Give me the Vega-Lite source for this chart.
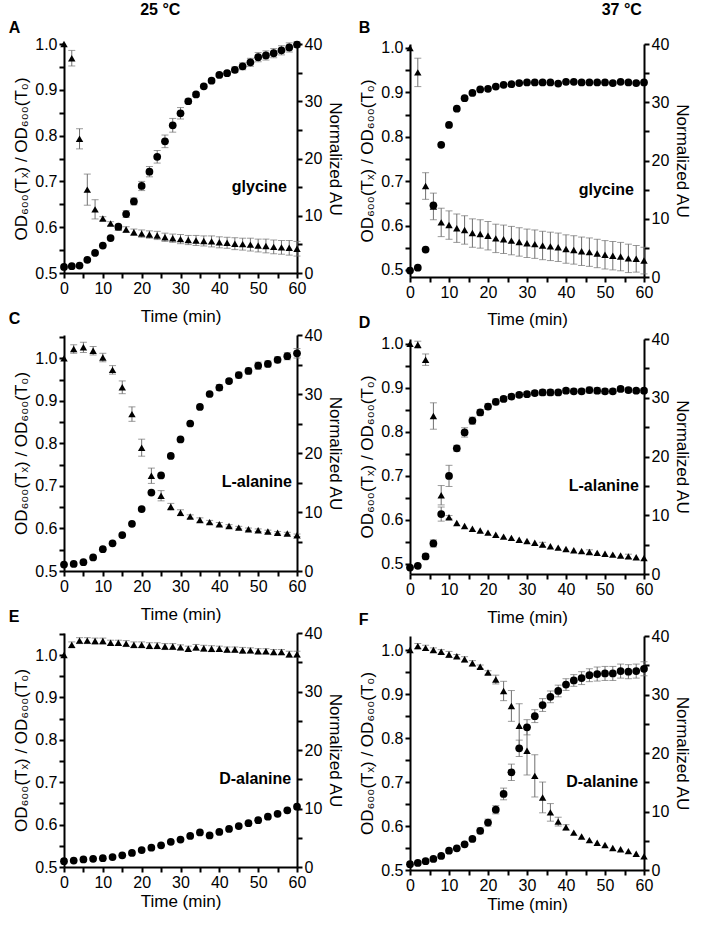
{
  "$schema": "https://vega.github.io/schema/vega-lite/v6.json",
  "background": "white",
  "padding": {"left": 8, "top": 2, "right": 5, "bottom": 5},
  "config": {
    "font": "Liberation Sans",
    "view": {"stroke": null},
    "axis": {"domainColor": "black", "domainWidth": 2, "tickColor": "black", "tickWidth": 2, "tickSize": 5, "labelFontSize": 16, "labelColor": "black", "labelPadding": 2, "labelFlush": false, "labelOverlap": false, "titleFontSize": 17, "titleFontWeight": "normal", "titleColor": "black", "grid": false},
    "title": {"fontSize": 16, "fontWeight": "bold", "color": "black"}
  },
  "datasets": {
    "A": [
      {"t":0,"od":1.0,"ode":0,"au":1.05,"aue":0},{"t":2,"od":0.969,"ode":0.017,"au":1.2,"aue":0},{"t":4,"od":0.793,"ode":0.022,"au":1.3,"aue":0},{"t":6,"od":0.682,"ode":0.034,"au":2.3,"aue":0},{"t":8,"od":0.639,"ode":0.021,"au":3.5,"aue":0},{"t":10,"od":0.619,"ode":0.004,"au":4.8,"aue":0},{"t":12,"od":0.608,"ode":0.004,"au":6.1,"aue":0},{"t":14,"od":0.600,"ode":0.004,"au":8.1,"aue":0},{"t":16,"od":0.595,"ode":0.006,"au":10.3,"aue":0.6},{"t":18,"od":0.589,"ode":0.007,"au":12.5,"aue":0.6},{"t":20,"od":0.586,"ode":0.008,"au":15.2,"aue":0.8},{"t":22,"od":0.584,"ode":0.008,"au":17.7,"aue":0.9},{"t":24,"od":0.582,"ode":0.009,"au":20.3,"aue":1.1},{"t":26,"od":0.578,"ode":0.009,"au":23.0,"aue":1.1},{"t":28,"od":0.576,"ode":0.009,"au":25.8,"aue":1.2},{"t":30,"od":0.574,"ode":0.01,"au":27.9,"aue":1.0},{"t":32,"od":0.572,"ode":0.01,"au":30.0,"aue":0.4},{"t":34,"od":0.571,"ode":0.011,"au":31.2,"aue":0.3},{"t":36,"od":0.570,"ode":0.011,"au":32.6,"aue":0.3},{"t":38,"od":0.569,"ode":0.012,"au":33.6,"aue":0.3},{"t":40,"od":0.567,"ode":0.012,"au":34.6,"aue":0.3},{"t":42,"od":0.566,"ode":0.012,"au":34.9,"aue":0.3},{"t":44,"od":0.564,"ode":0.013,"au":35.5,"aue":0.5},{"t":46,"od":0.563,"ode":0.013,"au":36.1,"aue":0.6},{"t":48,"od":0.562,"ode":0.014,"au":36.8,"aue":0.7},{"t":50,"od":0.560,"ode":0.014,"au":37.7,"aue":0.8},{"t":52,"od":0.559,"ode":0.015,"au":38.0,"aue":0.8},{"t":54,"od":0.557,"ode":0.015,"au":38.4,"aue":0.8},{"t":56,"od":0.556,"ode":0.015,"au":38.9,"aue":0.8},{"t":58,"od":0.555,"ode":0.016,"au":39.4,"aue":0.8},{"t":60,"od":0.553,"ode":0.016,"au":39.9,"aue":0.5}
    ],
    "B": [
      {"t":0,"od":1.0,"ode":0,"au":1.1},{"t":2,"od":0.945,"ode":0.032,"au":1.6},{"t":4,"od":0.689,"ode":0.030,"au":4.7},{"t":6,"od":0.643,"ode":0.030,"au":12.3},{"t":8,"od":0.607,"ode":0.032,"au":22.7},{"t":10,"od":0.601,"ode":0.032,"au":26.1},{"t":12,"od":0.594,"ode":0.032,"au":28.9},{"t":14,"od":0.590,"ode":0.032,"au":30.7},{"t":16,"od":0.583,"ode":0.032,"au":31.6},{"t":18,"od":0.581,"ode":0.032,"au":32.2},{"t":20,"od":0.577,"ode":0.032,"au":32.3},{"t":22,"od":0.571,"ode":0.032,"au":32.7},{"t":24,"od":0.569,"ode":0.032,"au":33.0},{"t":26,"od":0.566,"ode":0.032,"au":33.1},{"t":28,"od":0.563,"ode":0.032,"au":33.3},{"t":30,"od":0.560,"ode":0.032,"au":33.4},{"t":32,"od":0.558,"ode":0.032,"au":33.4},{"t":34,"od":0.555,"ode":0.032,"au":33.4},{"t":36,"od":0.553,"ode":0.032,"au":33.4},{"t":38,"od":0.551,"ode":0.032,"au":33.2},{"t":40,"od":0.547,"ode":0.032,"au":33.5},{"t":42,"od":0.545,"ode":0.032,"au":33.5},{"t":44,"od":0.542,"ode":0.032,"au":33.4},{"t":46,"od":0.540,"ode":0.032,"au":33.4},{"t":48,"od":0.537,"ode":0.032,"au":33.4},{"t":50,"od":0.534,"ode":0.032,"au":33.4},{"t":52,"od":0.532,"ode":0.032,"au":33.3},{"t":54,"od":0.530,"ode":0.032,"au":33.5},{"t":56,"od":0.526,"ode":0.032,"au":33.4},{"t":58,"od":0.525,"ode":0.030,"au":33.3},{"t":60,"od":0.521,"ode":0.030,"au":33.4}
    ],
    "C": [
      {"t":0,"od":1.0,"ode":0,"au":1.1,"aue":0},{"t":2.5,"od":1.022,"ode":0.010,"au":1.2,"aue":0},{"t":5,"od":1.026,"ode":0.012,"au":1.5,"aue":0},{"t":7.5,"od":1.018,"ode":0.010,"au":2.3,"aue":0},{"t":10,"od":1.002,"ode":0.010,"au":3.7,"aue":0},{"t":12.5,"od":0.973,"ode":0.010,"au":4.7,"aue":0},{"t":15,"od":0.932,"ode":0.015,"au":6.1,"aue":0},{"t":17.5,"od":0.869,"ode":0.017,"au":8.0,"aue":0},{"t":20,"od":0.790,"ode":0.020,"au":10.5,"aue":0},{"t":22.5,"od":0.724,"ode":0.018,"au":13.3,"aue":0},{"t":25,"od":0.677,"ode":0.012,"au":16.2,"aue":0},{"t":27.5,"od":0.651,"ode":0.008,"au":19.5,"aue":0},{"t":30,"od":0.637,"ode":0.007,"au":22.3,"aue":0},{"t":32.5,"od":0.628,"ode":0.004,"au":25.0,"aue":0},{"t":35,"od":0.620,"ode":0.005,"au":27.8,"aue":0},{"t":37.5,"od":0.615,"ode":0.004,"au":30.0,"aue":0},{"t":40,"od":0.610,"ode":0.004,"au":31.1,"aue":0.5},{"t":42.5,"od":0.606,"ode":0.003,"au":32.2,"aue":0.3},{"t":45,"od":0.602,"ode":0.003,"au":33.2,"aue":0.5},{"t":47.5,"od":0.598,"ode":0.003,"au":33.9,"aue":0.5},{"t":50,"od":0.596,"ode":0.003,"au":34.8,"aue":0.6},{"t":52.5,"od":0.593,"ode":0.003,"au":35.1,"aue":0.5},{"t":55,"od":0.590,"ode":0.003,"au":35.8,"aue":0.5},{"t":57.5,"od":0.588,"ode":0.003,"au":36.4,"aue":0.6},{"t":60,"od":0.584,"ode":0.003,"au":36.9,"aue":0.8}
    ],
    "D": [
      {"t":0,"od":1.0,"ode":0,"au":1.1,"aue":0},{"t":2,"od":0.998,"ode":0.008,"au":1.4,"aue":0},{"t":4,"od":0.964,"ode":0.013,"au":3.0,"aue":0.4},{"t":6,"od":0.836,"ode":0.030,"au":5.2,"aue":0.6},{"t":8,"od":0.656,"ode":0.022,"au":10.2,"aue":1.2},{"t":10,"od":0.606,"ode":0.004,"au":16.7,"aue":1.8},{"t":12,"od":0.593,"ode":0,"au":21.4,"aue":0.5},{"t":14,"od":0.586,"ode":0,"au":24.1,"aue":0.8},{"t":16,"od":0.580,"ode":0,"au":26.1,"aue":0.6},{"t":18,"od":0.576,"ode":0,"au":27.5,"aue":0.5},{"t":20,"od":0.571,"ode":0,"au":28.5,"aue":0.5},{"t":22,"od":0.566,"ode":0,"au":29.3,"aue":0.5},{"t":24,"od":0.562,"ode":0,"au":29.8,"aue":0.4},{"t":26,"od":0.559,"ode":0,"au":30.2,"aue":0.4},{"t":28,"od":0.555,"ode":0,"au":30.5,"aue":0.4},{"t":30,"od":0.552,"ode":0,"au":30.6,"aue":0.4},{"t":32,"od":0.548,"ode":0,"au":30.8,"aue":0.4},{"t":34,"od":0.544,"ode":0.005,"au":30.9,"aue":0.5},{"t":36,"od":0.540,"ode":0,"au":30.9,"aue":0.5},{"t":38,"od":0.537,"ode":0,"au":30.9,"aue":0.4},{"t":40,"od":0.534,"ode":0,"au":31.2,"aue":0.4},{"t":42,"od":0.531,"ode":0,"au":31.1,"aue":0.4},{"t":44,"od":0.529,"ode":0,"au":31.1,"aue":0.4},{"t":46,"od":0.527,"ode":0.005,"au":31.3,"aue":0.5},{"t":48,"od":0.525,"ode":0,"au":31.2,"aue":0.5},{"t":50,"od":0.523,"ode":0,"au":31.1,"aue":0.4},{"t":52,"od":0.521,"ode":0,"au":31.1,"aue":0.4},{"t":54,"od":0.519,"ode":0,"au":31.5,"aue":0.4},{"t":56,"od":0.517,"ode":0.005,"au":31.3,"aue":0.4},{"t":58,"od":0.515,"ode":0,"au":31.2,"aue":0.3},{"t":60,"od":0.513,"ode":0,"au":31.2,"aue":0.3}
    ],
    "E": [
      {"t":0,"od":1.0,"au":1.0},{"t":2,"od":1.024,"ode":0.007},{"t":2.5,"au":1.1},{"t":4,"od":1.034,"ode":0.007},{"t":5,"au":1.3},{"t":6,"od":1.034,"ode":0.007},{"t":7.5,"au":1.4},{"t":8,"od":1.033,"ode":0.007},{"t":10,"od":1.033,"ode":0.007,"au":1.5},{"t":12,"od":1.029,"ode":0.006},{"t":12.5,"au":1.7},{"t":14,"od":1.029,"ode":0.006},{"t":15,"au":2.0},{"t":16,"od":1.027,"ode":0.007},{"t":17.5,"au":2.4},{"t":18,"od":1.024,"ode":0.007},{"t":20,"od":1.024,"ode":0.007,"au":2.9},{"t":22,"od":1.022,"ode":0.007},{"t":22.5,"au":3.3},{"t":24,"od":1.022,"ode":0.007},{"t":25,"au":3.7},{"t":26,"od":1.020,"ode":0.007},{"t":27.5,"au":4.3},{"t":28,"od":1.020,"ode":0.007},{"t":30,"od":1.018,"ode":0.006,"au":4.7},{"t":32,"od":1.015,"ode":0.006},{"t":32.5,"au":5.3},{"t":34,"od":1.018,"ode":0.007},{"t":35,"au":5.9},{"t":36,"od":1.016,"ode":0.007},{"t":37.5,"au":5.4},{"t":38,"od":1.015,"ode":0.007},{"t":40,"od":1.015,"ode":0.006,"au":6.0},{"t":42,"od":1.013,"ode":0.006},{"t":42.5,"au":6.5},{"t":44,"od":1.013,"ode":0.006},{"t":45,"au":7.0},{"t":46,"od":1.011,"ode":0.007},{"t":47.5,"au":7.5},{"t":48,"od":1.011,"ode":0.006},{"t":50,"od":1.009,"ode":0.006,"au":8.0},{"t":52,"od":1.009,"ode":0.006},{"t":52.5,"au":8.6},{"t":54,"od":1.007,"ode":0.006},{"t":55,"au":9.1},{"t":56,"od":1.007,"ode":0.006},{"t":57.5,"au":9.7},{"t":58,"od":1.002,"ode":0.007},{"t":60,"od":1.002,"ode":0.007,"au":10.3}
    ],
    "F": [
      {"t":0,"od":1.0,"ode":0,"au":1.0,"aue":0},{"t":2,"od":1.009,"ode":0.006,"au":1.2,"aue":0},{"t":4,"od":1.005,"ode":0.006,"au":1.5,"aue":0},{"t":6,"od":1.0,"ode":0.005,"au":1.9,"aue":0},{"t":8,"od":0.996,"ode":0.005,"au":2.4,"aue":0},{"t":10,"od":0.990,"ode":0.007,"au":3.3,"aue":0},{"t":12,"od":0.986,"ode":0.004,"au":3.7,"aue":0},{"t":14,"od":0.979,"ode":0.006,"au":4.4,"aue":0},{"t":16,"od":0.970,"ode":0.006,"au":5.3,"aue":0},{"t":18,"od":0.962,"ode":0.004,"au":6.7,"aue":0.5},{"t":20,"od":0.949,"ode":0.004,"au":8.1,"aue":0.6},{"t":22,"od":0.933,"ode":0.010,"au":10.3,"aue":0.7},{"t":24,"od":0.907,"ode":0.022,"au":13.0,"aue":1.0},{"t":26,"od":0.873,"ode":0.035,"au":16.7,"aue":1.4},{"t":28,"od":0.828,"ode":0.05,"au":20.8,"aue":1.4},{"t":30,"od":0.771,"ode":0.055,"au":24.4,"aue":1.3},{"t":32,"od":0.714,"ode":0.048,"au":26.3,"aue":1.1},{"t":34,"od":0.665,"ode":0.035,"au":28.2,"aue":1.1},{"t":36,"od":0.631,"ode":0.02,"au":29.6,"aue":1.0},{"t":38,"od":0.610,"ode":0.01,"au":30.6,"aue":1.0},{"t":40,"od":0.597,"ode":0.006,"au":31.7,"aue":1.0},{"t":42,"od":0.585,"ode":0,"au":32.4,"aue":1.0},{"t":44,"od":0.576,"ode":0,"au":32.8,"aue":1.1},{"t":46,"od":0.568,"ode":0,"au":33.3,"aue":1.1},{"t":48,"od":0.562,"ode":0,"au":33.5,"aue":1.2},{"t":50,"od":0.557,"ode":0,"au":33.6,"aue":1.2},{"t":52,"od":0.550,"ode":0,"au":33.6,"aue":1.2},{"t":54,"od":0.547,"ode":0,"au":34.0,"aue":1.2},{"t":56,"od":0.543,"ode":0,"au":33.9,"aue":1.2},{"t":58,"od":0.537,"ode":0,"au":34.0,"aue":1.2},{"t":60,"od":0.531,"ode":0,"au":34.4,"aue":1.2}
    ]
  },
  "spacing": 14,
  "hconcat": [
    {
      "title": {"text": "25 °C", "anchor": "middle", "offset": 2, "dx": -16},
      "bounds": "flush",
      "spacing": 62,
      "vconcat": [
        {
          "title": {"text": "A", "anchor": "start", "frame": "bounds", "dx": -4, "offset": 0},
          "width": 233, "height": 229,
          "data": {"name": "A"},
          "layer": [
            {"layer": [
              {"transform": [{"filter": "datum.ode > 0"}], "mark": {"type": "errorbar", "ticks": true, "color": "#707070", "size": 7, "thickness": 1}, "encoding": {"x": {"field": "t", "type": "quantitative", "title": "Time (min)", "scale": {"domain": [0, 60], "nice": false}, "axis": {"values": [0,5,10,15,20,25,30,35,40,45,50,55,60], "labelExpr": "datum.value % 10 === 0 ? datum.label : ''", "labelOverlap": false, "titlePadding": 12}}, "y": {"field": "od", "type": "quantitative", "title": "OD₆₀₀(Tₓ) / OD₆₀₀(T₀)", "scale": {"domain": [0.5, 1.0], "nice": false, "zero": false}, "axis": {"values": [0.5,0.55,0.6,0.65,0.7,0.75,0.8,0.85,0.9,0.95,1.0], "labelExpr": "round(datum.value*100) % 10 === 0 ? format(datum.value, '.1f') : ''", "labelOverlap": false}}, "yError": {"field": "ode"}}},
              {"mark": {"type": "point", "shape": "triangle-up", "filled": true, "color": "black", "size": 55, "opacity": 1}, "encoding": {"x": {"field": "t", "type": "quantitative", "title": "Time (min)", "scale": {"domain": [0, 60], "nice": false}, "axis": {"values": [0,5,10,15,20,25,30,35,40,45,50,55,60], "labelExpr": "datum.value % 10 === 0 ? datum.label : ''", "labelOverlap": false, "titlePadding": 12}}, "y": {"field": "od", "type": "quantitative", "title": "OD₆₀₀(Tₓ) / OD₆₀₀(T₀)", "scale": {"domain": [0.5, 1.0], "nice": false, "zero": false}, "axis": {"values": [0.5,0.55,0.6,0.65,0.7,0.75,0.8,0.85,0.9,0.95,1.0], "labelExpr": "round(datum.value*100) % 10 === 0 ? format(datum.value, '.1f') : ''", "labelOverlap": false}}}},
              {"data": {"values": [{"lab": "glycine"}]}, "mark": {"type": "text", "fontSize": 16, "fontWeight": "bold", "align": "right", "baseline": "middle", "color": "black"}, "encoding": {"x": {"datum": 57.4, "type": "quantitative", "title": "Time (min)", "axis": {"values": [0,5,10,15,20,25,30,35,40,45,50,55,60], "labelExpr": "datum.value % 10 === 0 ? datum.label : ''", "labelOverlap": false, "titlePadding": 12}}, "y": {"datum": 0.688, "type": "quantitative", "title": "OD₆₀₀(Tₓ) / OD₆₀₀(T₀)", "axis": {"values": [0.5,0.55,0.6,0.65,0.7,0.75,0.8,0.85,0.9,0.95,1.0], "labelExpr": "round(datum.value*100) % 10 === 0 ? format(datum.value, '.1f') : ''", "labelOverlap": false}}, "text": {"field": "lab"}}}
            ]},
            {"layer": [
              {"transform": [{"filter": "datum.aue > 0"}], "mark": {"type": "errorbar", "ticks": true, "color": "#707070", "size": 7, "thickness": 1}, "encoding": {"x": {"field": "t", "type": "quantitative", "title": "Time (min)", "scale": {"domain": [0, 60], "nice": false}, "axis": {"values": [0,5,10,15,20,25,30,35,40,45,50,55,60], "labelExpr": "datum.value % 10 === 0 ? datum.label : ''", "labelOverlap": false, "titlePadding": 12}}, "y": {"field": "au", "type": "quantitative", "title": "Normalized AU", "scale": {"domain": [0, 40], "nice": false}, "axis": {"orient": "right", "values": [0,5,10,15,20,25,30,35,40], "labelExpr": "datum.value % 10 === 0 ? datum.label : ''", "labelOverlap": false}}, "yError": {"field": "aue"}}},
              {"mark": {"type": "point", "shape": "circle", "filled": true, "color": "black", "size": 60, "opacity": 1}, "encoding": {"x": {"field": "t", "type": "quantitative", "title": "Time (min)", "scale": {"domain": [0, 60], "nice": false}, "axis": {"values": [0,5,10,15,20,25,30,35,40,45,50,55,60], "labelExpr": "datum.value % 10 === 0 ? datum.label : ''", "labelOverlap": false, "titlePadding": 12}}, "y": {"field": "au", "type": "quantitative", "title": "Normalized AU", "scale": {"domain": [0, 40], "nice": false}, "axis": {"orient": "right", "values": [0,5,10,15,20,25,30,35,40], "labelExpr": "datum.value % 10 === 0 ? datum.label : ''", "labelOverlap": false}}}}
            ]}
          ],
          "resolve": {"scale": {"y": "independent"}}
        },
        {
          "title": {"text": "C", "anchor": "start", "frame": "bounds", "dx": -4, "offset": 0},
          "width": 233, "height": 236,
          "data": {"name": "C"},
          "layer": [
            {"layer": [
              {"transform": [{"filter": "datum.ode > 0"}], "mark": {"type": "errorbar", "ticks": true, "color": "#707070", "size": 7, "thickness": 1}, "encoding": {"x": {"field": "t", "type": "quantitative", "title": "Time (min)", "scale": {"domain": [0, 60], "nice": false}, "axis": {"values": [0,5,10,15,20,25,30,35,40,45,50,55,60], "labelExpr": "datum.value % 10 === 0 ? datum.label : ''", "labelOverlap": false, "titlePadding": 12}}, "y": {"field": "od", "type": "quantitative", "title": "OD₆₀₀(Tₓ) / OD₆₀₀(T₀)", "scale": {"domain": [0.5, 1.055], "nice": false, "zero": false}, "axis": {"values": [0.5,0.55,0.6,0.65,0.7,0.75,0.8,0.85,0.9,0.95,1.0,1.05], "labelExpr": "round(datum.value*100) % 10 === 0 ? format(datum.value, '.1f') : ''", "labelOverlap": false}}, "yError": {"field": "ode"}}},
              {"mark": {"type": "point", "shape": "triangle-up", "filled": true, "color": "black", "size": 55, "opacity": 1}, "encoding": {"x": {"field": "t", "type": "quantitative", "title": "Time (min)", "scale": {"domain": [0, 60], "nice": false}, "axis": {"values": [0,5,10,15,20,25,30,35,40,45,50,55,60], "labelExpr": "datum.value % 10 === 0 ? datum.label : ''", "labelOverlap": false, "titlePadding": 12}}, "y": {"field": "od", "type": "quantitative", "title": "OD₆₀₀(Tₓ) / OD₆₀₀(T₀)", "scale": {"domain": [0.5, 1.055], "nice": false, "zero": false}, "axis": {"values": [0.5,0.55,0.6,0.65,0.7,0.75,0.8,0.85,0.9,0.95,1.0,1.05], "labelExpr": "round(datum.value*100) % 10 === 0 ? format(datum.value, '.1f') : ''", "labelOverlap": false}}}},
              {"data": {"values": [{"lab": "L-alanine"}]}, "mark": {"type": "text", "fontSize": 16, "fontWeight": "bold", "align": "right", "baseline": "middle", "color": "black"}, "encoding": {"x": {"datum": 58.7, "type": "quantitative", "title": "Time (min)", "axis": {"values": [0,5,10,15,20,25,30,35,40,45,50,55,60], "labelExpr": "datum.value % 10 === 0 ? datum.label : ''", "labelOverlap": false, "titlePadding": 12}}, "y": {"datum": 0.709, "type": "quantitative", "title": "OD₆₀₀(Tₓ) / OD₆₀₀(T₀)", "axis": {"values": [0.5,0.55,0.6,0.65,0.7,0.75,0.8,0.85,0.9,0.95,1.0,1.05], "labelExpr": "round(datum.value*100) % 10 === 0 ? format(datum.value, '.1f') : ''", "labelOverlap": false}}, "text": {"field": "lab"}}}
            ]},
            {"layer": [
              {"transform": [{"filter": "datum.aue > 0"}], "mark": {"type": "errorbar", "ticks": true, "color": "#707070", "size": 7, "thickness": 1}, "encoding": {"x": {"field": "t", "type": "quantitative", "title": "Time (min)", "scale": {"domain": [0, 60], "nice": false}, "axis": {"values": [0,5,10,15,20,25,30,35,40,45,50,55,60], "labelExpr": "datum.value % 10 === 0 ? datum.label : ''", "labelOverlap": false, "titlePadding": 12}}, "y": {"field": "au", "type": "quantitative", "title": "Normalized AU", "scale": {"domain": [0, 40], "nice": false}, "axis": {"orient": "right", "values": [0,5,10,15,20,25,30,35,40], "labelExpr": "datum.value % 10 === 0 ? datum.label : ''", "labelOverlap": false}}, "yError": {"field": "aue"}}},
              {"mark": {"type": "point", "shape": "circle", "filled": true, "color": "black", "size": 60, "opacity": 1}, "encoding": {"x": {"field": "t", "type": "quantitative", "title": "Time (min)", "scale": {"domain": [0, 60], "nice": false}, "axis": {"values": [0,5,10,15,20,25,30,35,40,45,50,55,60], "labelExpr": "datum.value % 10 === 0 ? datum.label : ''", "labelOverlap": false, "titlePadding": 12}}, "y": {"field": "au", "type": "quantitative", "title": "Normalized AU", "scale": {"domain": [0, 40], "nice": false}, "axis": {"orient": "right", "values": [0,5,10,15,20,25,30,35,40], "labelExpr": "datum.value % 10 === 0 ? datum.label : ''", "labelOverlap": false}}}}
            ]}
          ],
          "resolve": {"scale": {"y": "independent"}}
        },
        {
          "title": {"text": "E", "anchor": "start", "frame": "bounds", "dx": -4, "offset": 0},
          "width": 233, "height": 234,
          "data": {"name": "E"},
          "layer": [
            {"layer": [
              {"transform": [{"filter": "datum.ode > 0"}], "mark": {"type": "errorbar", "ticks": true, "color": "#707070", "size": 7, "thickness": 1}, "encoding": {"x": {"field": "t", "type": "quantitative", "title": "Time (min)", "scale": {"domain": [0, 60], "nice": false}, "axis": {"values": [0,5,10,15,20,25,30,35,40,45,50,55,60], "labelExpr": "datum.value % 10 === 0 ? datum.label : ''", "labelOverlap": false, "titlePadding": 3}}, "y": {"field": "od", "type": "quantitative", "title": "OD₆₀₀(Tₓ) / OD₆₀₀(T₀)", "scale": {"domain": [0.5, 1.052], "nice": false, "zero": false}, "axis": {"values": [0.5,0.55,0.6,0.65,0.7,0.75,0.8,0.85,0.9,0.95,1.0,1.05], "labelExpr": "round(datum.value*100) % 10 === 0 ? format(datum.value, '.1f') : ''", "labelOverlap": false}}, "yError": {"field": "ode"}}},
              {"mark": {"type": "point", "shape": "triangle-up", "filled": true, "color": "black", "size": 55, "opacity": 1}, "encoding": {"x": {"field": "t", "type": "quantitative", "title": "Time (min)", "scale": {"domain": [0, 60], "nice": false}, "axis": {"values": [0,5,10,15,20,25,30,35,40,45,50,55,60], "labelExpr": "datum.value % 10 === 0 ? datum.label : ''", "labelOverlap": false, "titlePadding": 3}}, "y": {"field": "od", "type": "quantitative", "title": "OD₆₀₀(Tₓ) / OD₆₀₀(T₀)", "scale": {"domain": [0.5, 1.052], "nice": false, "zero": false}, "axis": {"values": [0.5,0.55,0.6,0.65,0.7,0.75,0.8,0.85,0.9,0.95,1.0,1.05], "labelExpr": "round(datum.value*100) % 10 === 0 ? format(datum.value, '.1f') : ''", "labelOverlap": false}}}},
              {"data": {"values": [{"lab": "D-alanine"}]}, "mark": {"type": "text", "fontSize": 16, "fontWeight": "bold", "align": "right", "baseline": "middle", "color": "black"}, "encoding": {"x": {"datum": 58.5, "type": "quantitative", "title": "Time (min)", "axis": {"values": [0,5,10,15,20,25,30,35,40,45,50,55,60], "labelExpr": "datum.value % 10 === 0 ? datum.label : ''", "labelOverlap": false, "titlePadding": 3}}, "y": {"datum": 0.707, "type": "quantitative", "title": "OD₆₀₀(Tₓ) / OD₆₀₀(T₀)", "axis": {"values": [0.5,0.55,0.6,0.65,0.7,0.75,0.8,0.85,0.9,0.95,1.0,1.05], "labelExpr": "round(datum.value*100) % 10 === 0 ? format(datum.value, '.1f') : ''", "labelOverlap": false}}, "text": {"field": "lab"}}}
            ]},
            {"layer": [
              {"mark": {"type": "point", "shape": "circle", "filled": true, "color": "black", "size": 60, "opacity": 1}, "encoding": {"x": {"field": "t", "type": "quantitative", "title": "Time (min)", "scale": {"domain": [0, 60], "nice": false}, "axis": {"values": [0,5,10,15,20,25,30,35,40,45,50,55,60], "labelExpr": "datum.value % 10 === 0 ? datum.label : ''", "labelOverlap": false, "titlePadding": 3}}, "y": {"field": "au", "type": "quantitative", "title": "Normalized AU", "scale": {"domain": [0, 40], "nice": false}, "axis": {"orient": "right", "values": [0,5,10,15,20,25,30,35,40], "labelExpr": "datum.value % 10 === 0 ? datum.label : ''", "labelOverlap": false}}}}
            ]}
          ],
          "resolve": {"scale": {"y": "independent"}}
        }
      ]
    },
    {
      "title": {"text": "37 °C", "anchor": "middle", "offset": 2, "dx": 97},
      "bounds": "flush",
      "spacing": 62,
      "vconcat": [
        {
          "title": {"text": "B", "anchor": "start", "frame": "bounds", "offset": 0},
          "width": 234, "height": 233,
          "data": {"name": "B"},
          "layer": [
            {"layer": [
              {"transform": [{"filter": "datum.ode > 0"}], "mark": {"type": "errorbar", "ticks": true, "color": "#707070", "size": 7, "thickness": 1}, "encoding": {"x": {"field": "t", "type": "quantitative", "title": "Time (min)", "scale": {"domain": [0, 60], "nice": false}, "axis": {"values": [0,5,10,15,20,25,30,35,40,45,50,55,60], "labelExpr": "datum.value % 10 === 0 ? datum.label : ''", "labelOverlap": false, "titlePadding": 11}}, "y": {"field": "od", "type": "quantitative", "title": "OD₆₀₀(Tₓ) / OD₆₀₀(T₀)", "scale": {"domain": [0.484, 1.009], "nice": false, "zero": false}, "axis": {"values": [0.5,0.55,0.6,0.65,0.7,0.75,0.8,0.85,0.9,0.95,1.0], "labelExpr": "round(datum.value*100) % 10 === 0 ? format(datum.value, '.1f') : ''", "labelOverlap": false}}, "yError": {"field": "ode"}}},
              {"mark": {"type": "point", "shape": "triangle-up", "filled": true, "color": "black", "size": 55, "opacity": 1}, "encoding": {"x": {"field": "t", "type": "quantitative", "title": "Time (min)", "scale": {"domain": [0, 60], "nice": false}, "axis": {"values": [0,5,10,15,20,25,30,35,40,45,50,55,60], "labelExpr": "datum.value % 10 === 0 ? datum.label : ''", "labelOverlap": false, "titlePadding": 11}}, "y": {"field": "od", "type": "quantitative", "title": "OD₆₀₀(Tₓ) / OD₆₀₀(T₀)", "scale": {"domain": [0.484, 1.009], "nice": false, "zero": false}, "axis": {"values": [0.5,0.55,0.6,0.65,0.7,0.75,0.8,0.85,0.9,0.95,1.0], "labelExpr": "round(datum.value*100) % 10 === 0 ? format(datum.value, '.1f') : ''", "labelOverlap": false}}}},
              {"data": {"values": [{"lab": "glycine"}]}, "mark": {"type": "text", "fontSize": 16, "fontWeight": "bold", "align": "right", "baseline": "middle", "color": "black"}, "encoding": {"x": {"datum": 57.4, "type": "quantitative", "title": "Time (min)", "axis": {"values": [0,5,10,15,20,25,30,35,40,45,50,55,60], "labelExpr": "datum.value % 10 === 0 ? datum.label : ''", "labelOverlap": false, "titlePadding": 11}}, "y": {"datum": 0.68, "type": "quantitative", "title": "OD₆₀₀(Tₓ) / OD₆₀₀(T₀)", "axis": {"values": [0.5,0.55,0.6,0.65,0.7,0.75,0.8,0.85,0.9,0.95,1.0], "labelExpr": "round(datum.value*100) % 10 === 0 ? format(datum.value, '.1f') : ''", "labelOverlap": false}}, "text": {"field": "lab"}}}
            ]},
            {"layer": [
              {"mark": {"type": "point", "shape": "circle", "filled": true, "color": "black", "size": 60, "opacity": 1}, "encoding": {"x": {"field": "t", "type": "quantitative", "title": "Time (min)", "scale": {"domain": [0, 60], "nice": false}, "axis": {"values": [0,5,10,15,20,25,30,35,40,45,50,55,60], "labelExpr": "datum.value % 10 === 0 ? datum.label : ''", "labelOverlap": false, "titlePadding": 11}}, "y": {"field": "au", "type": "quantitative", "title": "Normalized AU", "scale": {"domain": [0, 40], "nice": false}, "axis": {"orient": "right", "values": [0,5,10,15,20,25,30,35,40], "labelExpr": "datum.value % 10 === 0 ? datum.label : ''", "labelOverlap": false}}}}
            ]}
          ],
          "resolve": {"scale": {"y": "independent"}}
        },
        {
          "title": {"text": "D", "anchor": "start", "frame": "bounds", "offset": 0},
          "width": 234, "height": 235,
          "data": {"name": "D"},
          "layer": [
            {"layer": [
              {"transform": [{"filter": "datum.ode > 0"}], "mark": {"type": "errorbar", "ticks": true, "color": "#707070", "size": 7, "thickness": 1}, "encoding": {"x": {"field": "t", "type": "quantitative", "title": "Time (min)", "scale": {"domain": [0, 60], "nice": false}, "axis": {"values": [0,5,10,15,20,25,30,35,40,45,50,55,60], "labelExpr": "datum.value % 10 === 0 ? datum.label : ''", "labelOverlap": false, "titlePadding": 12}}, "y": {"field": "od", "type": "quantitative", "title": "OD₆₀₀(Tₓ) / OD₆₀₀(T₀)", "scale": {"domain": [0.477, 1.011], "nice": false, "zero": false}, "axis": {"values": [0.5,0.55,0.6,0.65,0.7,0.75,0.8,0.85,0.9,0.95,1.0], "labelExpr": "round(datum.value*100) % 10 === 0 ? format(datum.value, '.1f') : ''", "labelOverlap": false}}, "yError": {"field": "ode"}}},
              {"mark": {"type": "point", "shape": "triangle-up", "filled": true, "color": "black", "size": 55, "opacity": 1}, "encoding": {"x": {"field": "t", "type": "quantitative", "title": "Time (min)", "scale": {"domain": [0, 60], "nice": false}, "axis": {"values": [0,5,10,15,20,25,30,35,40,45,50,55,60], "labelExpr": "datum.value % 10 === 0 ? datum.label : ''", "labelOverlap": false, "titlePadding": 12}}, "y": {"field": "od", "type": "quantitative", "title": "OD₆₀₀(Tₓ) / OD₆₀₀(T₀)", "scale": {"domain": [0.477, 1.011], "nice": false, "zero": false}, "axis": {"values": [0.5,0.55,0.6,0.65,0.7,0.75,0.8,0.85,0.9,0.95,1.0], "labelExpr": "round(datum.value*100) % 10 === 0 ? format(datum.value, '.1f') : ''", "labelOverlap": false}}}},
              {"data": {"values": [{"lab": "L-alanine"}]}, "mark": {"type": "text", "fontSize": 16, "fontWeight": "bold", "align": "right", "baseline": "middle", "color": "black"}, "encoding": {"x": {"datum": 58.7, "type": "quantitative", "title": "Time (min)", "axis": {"values": [0,5,10,15,20,25,30,35,40,45,50,55,60], "labelExpr": "datum.value % 10 === 0 ? datum.label : ''", "labelOverlap": false, "titlePadding": 12}}, "y": {"datum": 0.676, "type": "quantitative", "title": "OD₆₀₀(Tₓ) / OD₆₀₀(T₀)", "axis": {"values": [0.5,0.55,0.6,0.65,0.7,0.75,0.8,0.85,0.9,0.95,1.0], "labelExpr": "round(datum.value*100) % 10 === 0 ? format(datum.value, '.1f') : ''", "labelOverlap": false}}, "text": {"field": "lab"}}}
            ]},
            {"layer": [
              {"transform": [{"filter": "datum.aue > 0"}], "mark": {"type": "errorbar", "ticks": true, "color": "#707070", "size": 7, "thickness": 1}, "encoding": {"x": {"field": "t", "type": "quantitative", "title": "Time (min)", "scale": {"domain": [0, 60], "nice": false}, "axis": {"values": [0,5,10,15,20,25,30,35,40,45,50,55,60], "labelExpr": "datum.value % 10 === 0 ? datum.label : ''", "labelOverlap": false, "titlePadding": 12}}, "y": {"field": "au", "type": "quantitative", "title": "Normalized AU", "scale": {"domain": [0, 40], "nice": false}, "axis": {"orient": "right", "values": [0,5,10,15,20,25,30,35,40], "labelExpr": "datum.value % 10 === 0 ? datum.label : ''", "labelOverlap": false}}, "yError": {"field": "aue"}}},
              {"mark": {"type": "point", "shape": "circle", "filled": true, "color": "black", "size": 60, "opacity": 1}, "encoding": {"x": {"field": "t", "type": "quantitative", "title": "Time (min)", "scale": {"domain": [0, 60], "nice": false}, "axis": {"values": [0,5,10,15,20,25,30,35,40,45,50,55,60], "labelExpr": "datum.value % 10 === 0 ? datum.label : ''", "labelOverlap": false, "titlePadding": 12}}, "y": {"field": "au", "type": "quantitative", "title": "Normalized AU", "scale": {"domain": [0, 40], "nice": false}, "axis": {"orient": "right", "values": [0,5,10,15,20,25,30,35,40], "labelExpr": "datum.value % 10 === 0 ? datum.label : ''", "labelOverlap": false}}}}
            ]}
          ],
          "resolve": {"scale": {"y": "independent"}}
        },
        {
          "title": {"text": "F", "anchor": "start", "frame": "bounds", "offset": 0},
          "width": 234, "height": 234,
          "data": {"name": "F"},
          "layer": [
            {"layer": [
              {"transform": [{"filter": "datum.ode > 0"}], "mark": {"type": "errorbar", "ticks": true, "color": "#707070", "size": 7, "thickness": 1}, "encoding": {"x": {"field": "t", "type": "quantitative", "title": "Time (min)", "scale": {"domain": [0, 60], "nice": false}, "axis": {"values": [0,5,10,15,20,25,30,35,40,45,50,55,60], "labelExpr": "datum.value % 10 === 0 ? datum.label : ''", "labelOverlap": false, "titlePadding": 3}}, "y": {"field": "od", "type": "quantitative", "title": "OD₆₀₀(Tₓ) / OD₆₀₀(T₀)", "scale": {"domain": [0.5, 1.032], "nice": false, "zero": false}, "axis": {"values": [0.5,0.55,0.6,0.65,0.7,0.75,0.8,0.85,0.9,0.95,1.0], "labelExpr": "round(datum.value*100) % 10 === 0 ? format(datum.value, '.1f') : ''", "labelOverlap": false}}, "yError": {"field": "ode"}}},
              {"mark": {"type": "point", "shape": "triangle-up", "filled": true, "color": "black", "size": 55, "opacity": 1}, "encoding": {"x": {"field": "t", "type": "quantitative", "title": "Time (min)", "scale": {"domain": [0, 60], "nice": false}, "axis": {"values": [0,5,10,15,20,25,30,35,40,45,50,55,60], "labelExpr": "datum.value % 10 === 0 ? datum.label : ''", "labelOverlap": false, "titlePadding": 3}}, "y": {"field": "od", "type": "quantitative", "title": "OD₆₀₀(Tₓ) / OD₆₀₀(T₀)", "scale": {"domain": [0.5, 1.032], "nice": false, "zero": false}, "axis": {"values": [0.5,0.55,0.6,0.65,0.7,0.75,0.8,0.85,0.9,0.95,1.0], "labelExpr": "round(datum.value*100) % 10 === 0 ? format(datum.value, '.1f') : ''", "labelOverlap": false}}}},
              {"data": {"values": [{"lab": "D-alanine"}]}, "mark": {"type": "text", "fontSize": 16, "fontWeight": "bold", "align": "right", "baseline": "middle", "color": "black"}, "encoding": {"x": {"datum": 58.5, "type": "quantitative", "title": "Time (min)", "axis": {"values": [0,5,10,15,20,25,30,35,40,45,50,55,60], "labelExpr": "datum.value % 10 === 0 ? datum.label : ''", "labelOverlap": false, "titlePadding": 3}}, "y": {"datum": 0.699, "type": "quantitative", "title": "OD₆₀₀(Tₓ) / OD₆₀₀(T₀)", "axis": {"values": [0.5,0.55,0.6,0.65,0.7,0.75,0.8,0.85,0.9,0.95,1.0], "labelExpr": "round(datum.value*100) % 10 === 0 ? format(datum.value, '.1f') : ''", "labelOverlap": false}}, "text": {"field": "lab"}}}
            ]},
            {"layer": [
              {"transform": [{"filter": "datum.aue > 0"}], "mark": {"type": "errorbar", "ticks": true, "color": "#707070", "size": 7, "thickness": 1}, "encoding": {"x": {"field": "t", "type": "quantitative", "title": "Time (min)", "scale": {"domain": [0, 60], "nice": false}, "axis": {"values": [0,5,10,15,20,25,30,35,40,45,50,55,60], "labelExpr": "datum.value % 10 === 0 ? datum.label : ''", "labelOverlap": false, "titlePadding": 3}}, "y": {"field": "au", "type": "quantitative", "title": "Normalized AU", "scale": {"domain": [0, 40], "nice": false}, "axis": {"orient": "right", "values": [0,5,10,15,20,25,30,35,40], "labelExpr": "datum.value % 10 === 0 ? datum.label : ''", "labelOverlap": false}}, "yError": {"field": "aue"}}},
              {"mark": {"type": "point", "shape": "circle", "filled": true, "color": "black", "size": 60, "opacity": 1}, "encoding": {"x": {"field": "t", "type": "quantitative", "title": "Time (min)", "scale": {"domain": [0, 60], "nice": false}, "axis": {"values": [0,5,10,15,20,25,30,35,40,45,50,55,60], "labelExpr": "datum.value % 10 === 0 ? datum.label : ''", "labelOverlap": false, "titlePadding": 3}}, "y": {"field": "au", "type": "quantitative", "title": "Normalized AU", "scale": {"domain": [0, 40], "nice": false}, "axis": {"orient": "right", "values": [0,5,10,15,20,25,30,35,40], "labelExpr": "datum.value % 10 === 0 ? datum.label : ''", "labelOverlap": false}}}}
            ]}
          ],
          "resolve": {"scale": {"y": "independent"}}
        }
      ]
    }
  ]
}
